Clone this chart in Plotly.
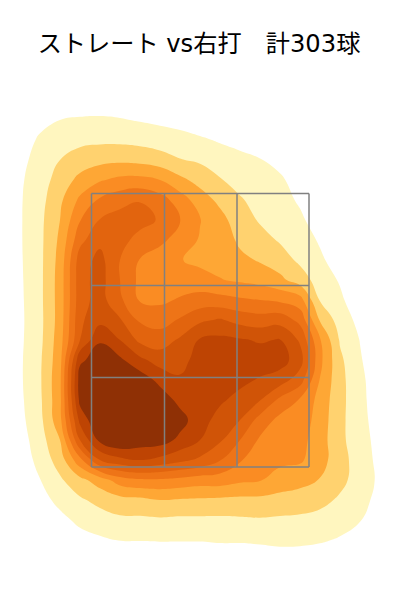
import numpy as np
import plotly.graph_objects as go

title_text = "ストレート vs右打　計303球"
x_grid = list(range(0, 401, 20))
y_grid = list(range(100, 561, 20))

col_000 = [0]*24
col_020 = [0,0,.3,.7,.85,.9,.9,.9,.88,.85,.82,.8,.82,.85,.85,.8,.72,.55,.35,.15,0,0,0,0]
col_040 = [0,.6,1.2,1.4,1.55,1.65,1.75,1.75,1.75,1.75,1.75,1.72,1.75,1.85,1.87,1.82,1.72,1.55,1.35,.97,.6,.15,0,0]
col_060 = [.4,1.0,1.5,2.0,2.4,2.8,3.0,3.2,3.35,3.43,3.43,3.43,3.55,3.65,3.78,3.75,3.7,3.0,2.45,1.85,1.3,.7,.1,0]
col_080 = [.47,1.1,1.75,2.45,3.3,4.2,4.95,5.7,6.5,6.6,6.6,6.8,7.0,8.8,9.5,9.3,8.3,7.0,4.7,2.7,1.85,1.25,.6,0]
col_100 = [.47,1.13,1.8,2.7,3.9,5.15,6.05,6.75,7.3,7.4,7.4,7.7,8.9,9.5,10,10,10,9.3,7.0,3.5,2.3,1.55,.85,.2]
col_120 = [.4,1.07,1.78,2.8,4.25,5.65,6.4,6.35,6.0,6.0,6.2,7.1,8.0,9.2,10,10.2,10.2,10,7.7,4.5,2.64,1.8,1.03,.4]
col_140 = [.25,.93,1.68,2.7,4.3,5.95,6.35,5.65,4.95,4.75,4.9,5.85,6.75,8.25,9.6,10,10.1,9.6,8,4.85,2.75,1.8,1.03,.45]
col_160 = [.15,.8,1.5,2.45,4.0,5.45,5.9,5.2,4.55,4.4,4.8,5.6,6.5,7.55,8.7,9.6,10,9.5,7.7,4.85,3.0,1.85,1.05,.45]
col_180 = [.1,.65,1.35,2.05,3.25,4.5,5.05,4.65,4.05,4.5,5.1,6.1,7.15,7.6,8.15,8.7,9.4,8.75,7.25,4.7,2.9,1.8,1.05,.4]
col_200 = [0,.4,1.15,1.85,2.65,3.5,4.05,3.9,3.75,4.4,5.4,6.8,8.1,8.45,8.6,8.55,8.4,8,6.8,4.5,2.85,1.8,1.05,.4]
col_220 = [0,.25,.9,1.5,2.07,2.75,3.35,3.6,3.65,4.05,5.35,7.1,8.25,8.5,8.45,8.15,7.65,7.15,6.05,4.5,2.8,1.8,1.1,.45]
col_240 = [0,.1,.75,1.22,1.65,2.1,2.45,2.8,3.25,3.85,5.15,6.65,8.1,8.4,8.25,7.7,7,6,5.1,4.2,2.75,1.85,1.1,.45]
col_260 = [0,0,.5,1.05,1.35,1.65,1.9,2.35,2.9,3.65,5,6.45,7.9,8.5,7.9,7.05,5.6,4.85,4.45,4.05,2.75,1.9,1.15,.5]
col_280 = [0,0,0,.6,1.2,1.4,1.65,1.9,2.45,3.25,4.8,6.6,8.05,8.45,7.5,5.75,4.7,4.45,4.2,3.65,2.6,1.85,1.2,.6]
col_300 = [0,0,0,0,.45,.85,1.2,1.5,1.8,2.5,4.4,5.7,6.85,7.45,6.45,4.9,4.6,4.35,4.15,3.35,2.5,1.8,1.2,.55]
col_320 = [0,0,0,0,0,0,.45,.88,1.18,1.55,1.93,2.9,4.1,4.25,3.95,3.65,3.55,3.45,3.4,2.95,2.3,1.65,1.1,.5]
col_340 = [0,0,0,0,0,0,0,0,.5,.9,1.2,1.55,1.9,2.2,2.3,2.3,2.25,2.25,2.4,2.28,1.85,1.35,.92,.4]
col_360 = [0,0,0,0,0,0,0,0,0,0,.3,.7,.97,1.1,1.25,1.3,1.35,1.4,1.5,1.55,1.32,1.05,.55,.05]
col_380 = [0,0,0,0,0,0,0,0,0,0,0,0,0,.25,.35,.4,.5,.65,.72,.8,.7,.4,.1,0]
col_400 = [0]*24

columns = [col_000,col_020,col_040,col_060,col_080,col_100,col_120,col_140,col_160,col_180,
           col_200,col_220,col_240,col_260,col_280,col_300,col_320,col_340,col_360,col_380,col_400]
z = np.array(columns, dtype=float).T.tolist()

band_colors = ["#ffffff","#FFF6BF","#FFD26F","#FEA735","#FA8C23","#EE7417",
               "#E2640E","#D05407","#BE4403","#8F3005"]
n = len(band_colors)
colorscale = []
for i, c in enumerate(band_colors):
    colorscale += [[i/n, c], [(i+1)/n, c]]

zone_x = [91.5, 164.5, 237, 309]
zone_y = [193.5, 285.5, 377.5, 467]

fig = go.Figure()
fig.add_trace(go.Contour(
    x=x_grid, y=y_grid, z=z, zmin=0, zmax=n, colorscale=colorscale, showscale=False,
    contours=dict(coloring="fill", start=1, end=9, size=1, showlines=False),
    line=dict(width=0, smoothing=1.3), hoverinfo="skip"))
for xv in zone_x:
    fig.add_trace(go.Scatter(x=[xv, xv], y=[zone_y[0], zone_y[-1]], mode="lines",
                             line=dict(color="#808080", width=1.5), showlegend=False, hoverinfo="skip"))
for yv in zone_y:
    fig.add_trace(go.Scatter(x=[zone_x[0], zone_x[-1]], y=[yv, yv], mode="lines",
                             line=dict(color="#808080", width=1.5), showlegend=False, hoverinfo="skip"))

fig.update_layout(
    width=400, height=600, margin=dict(l=0, r=0, t=0, b=0),
    paper_bgcolor="white", plot_bgcolor="white", showlegend=False,
    title=dict(text=title_text, x=0.4975, xanchor="center", y=0.927, yanchor="middle",
               font=dict(family="DejaVu Sans, Noto Sans CJK JP", size=24.2, color="black")),
    xaxis=dict(range=[0, 400], visible=False, fixedrange=True),
    yaxis=dict(range=[600, 0], visible=False, fixedrange=True),
)
fig.write_html("out.html", config=dict(displayModeBar=False),
               post_script="document.body.style.margin='0px';document.documentElement.style.overflow='hidden';")
